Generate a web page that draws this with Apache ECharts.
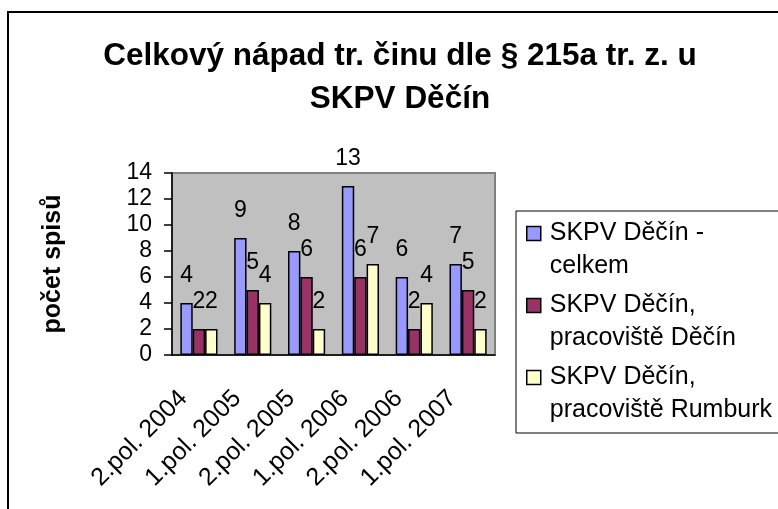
<!DOCTYPE html>
<html>
<head>
<meta charset="utf-8">
<script src="https://cdn.jsdelivr.net/npm/echarts@6/dist/echarts.min.js"></script>
<style>
  html, body { margin: 0; padding: 0; background: #fff; }
  #chart { width: 778px; height: 509px; }
</style>
</head>
<body>
<div id="chart"></div>
<script>
// pololetí
const categories = ['2.pol. 2004', '1.pol. 2005', '2.pol. 2005', '1.pol. 2006', '2.pol. 2006', '1.pol. 2007'];
const celkem = [4, 9, 8, 13, 6, 7];
const decin = [2, 5, 6, 6, 2, 5];
const rumburk = [2, 4, 2, 7, 4, 2];
const seriesNames = ['SKPV Děčín - celkem', 'SKPV Děčín, pracoviště Děčín', 'SKPV Děčín, pracoviště Rumburk'];
const colors = ['#9999FF', '#993366', '#FFFFCC'];

const font = "'Liberation Sans', Arial, sans-serif";

function barSeries(name, data, color) {
  return {
    name: name,
    type: 'bar',
    data: data,
    barGap: '0%',
    barCategoryGap: '31%',
    itemStyle: { color: color, borderColor: '#000', borderWidth: 1.5 },
    label: {
      show: true,
      position: 'top',
      distance: 16,
      color: '#000',
      fontSize: 23,
      fontFamily: font
    }
  };
}

const chart = echarts.init(document.getElementById('chart'));
chart.setOption({
  animation: false,
  textStyle: { fontFamily: font },
  title: {
    text: 'Celkový nápad tr. činu dle § 215a tr. z. u\nSKPV Děčín',
    left: 400,
    top: 35,
    padding: 0,
    textAlign: 'center',
    textStyle: { fontSize: 31.5, fontWeight: 'bold', color: '#000', lineHeight: 43, fontFamily: font }
  },
  // legenda vpravo, dvouřádkové popisky (prázdný první řádek drží ikonu u prvního řádku)
  legend: {
    orient: 'vertical',
    left: 516,
    top: 211,
    padding: [-27, 40, 6, 10],
    itemGap: -27,
    itemWidth: 14,
    itemHeight: 14,
    icon: 'rect',
    borderColor: '#000',
    borderWidth: 1,
    data: seriesNames,
    formatter: function (name) {
      return '\n' + name.replace(' - ', ' -\n').replace(', ', ',\n');
    },
    itemStyle: { borderColor: '#000', borderWidth: 1.5 },
    textStyle: { fontSize: 25, lineHeight: 33, color: '#000', padding: [0, 0, 0, 4], fontFamily: font }
  },
  grid: {
    left: 172,
    right: 283,
    top: 173,
    bottom: 154,
    show: true,
    backgroundColor: '#C0C0C0',
    borderColor: '#808080',
    borderWidth: 2
  },
  xAxis: {
    type: 'category',
    data: categories,
    axisLine: { lineStyle: { color: '#000', width: 1.5 } },
    axisTick: { length: 7, lineStyle: { color: '#000', width: 1.5 } },
    axisLabel: { rotate: 45, margin: 24, padding: [0, 22, 0, 0], fontSize: 25, color: '#000', fontFamily: font, interval: 0 }
  },
  yAxis: {
    type: 'value',
    min: 0,
    max: 14,
    interval: 2,
    name: 'počet spisů',
    nameLocation: 'middle',
    nameGap: 106,
    nameTextStyle: { fontSize: 25, fontWeight: 'bold', color: '#000', fontFamily: font },
    axisLine: { show: true, lineStyle: { color: '#000', width: 1.5 } },
    axisTick: { show: true, length: 8, lineStyle: { color: '#000', width: 1.5 } },
    axisLabel: { margin: 20, fontSize: 23, color: '#000', fontFamily: font },
    splitLine: { show: false }
  },
  graphic: [{
    type: 'rect',
    shape: { x: 8, y: 12, width: 900, height: 700 },
    style: { fill: 'none', stroke: '#000', lineWidth: 2 },
    silent: true
  }],
  series: [
    barSeries(seriesNames[0], celkem, colors[0]),
    barSeries(seriesNames[1], decin, colors[1]),
    barSeries(seriesNames[2], rumburk, colors[2])
  ]
});
</script>
</body>
</html>
